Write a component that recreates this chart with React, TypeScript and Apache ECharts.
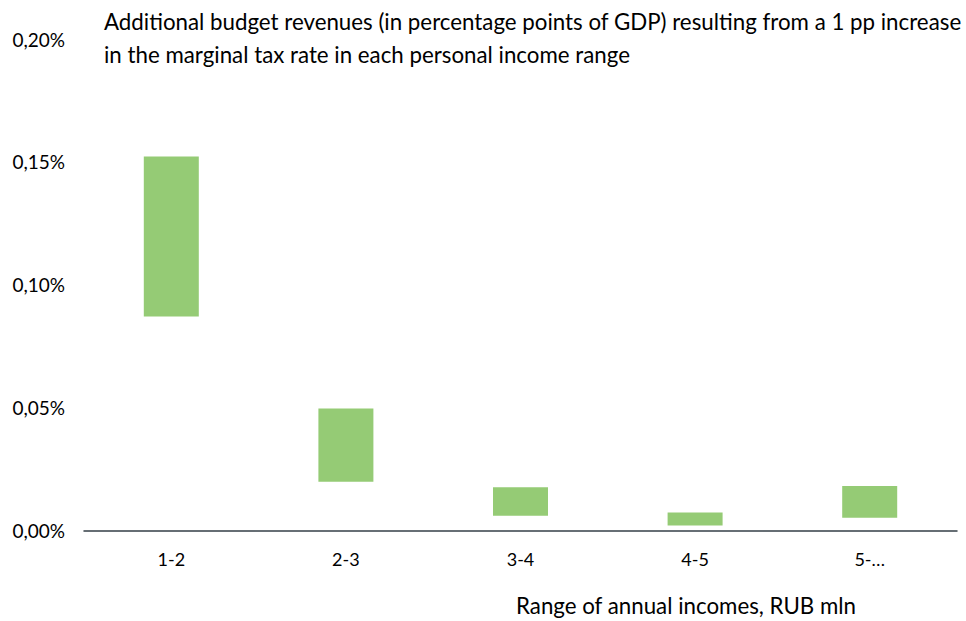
import React, { useEffect, useRef } from "react";
import * as echarts from "echarts";

const categories = ["1-2", "2-3", "3-4", "4-5", "5-…"];
const lowValues = [0.0871, 0.0198, 0.006, 0.002, 0.0052];
const highValues = [0.1522, 0.0496, 0.0176, 0.0073, 0.0181];
const titleLines = [
  "Additional budget revenues (in percentage points of GDP) resulting from a 1 pp increase",
  "in the marginal tax rate in each personal income range",
];
const xAxisTitle = "Range of annual incomes, RUB mln";

const FONT = "Lato, 'Open Sans', sans-serif";

export default function App() {
  const ref = useRef<HTMLDivElement>(null);
  useEffect(() => {
    if (!ref.current) return;
    const chart = echarts.init(ref.current, undefined, { renderer: "svg" });
    const spans = highValues.map((h, i) => +(h - lowValues[i]).toFixed(5));
    chart.setOption({
      animation: false,
      textStyle: { fontFamily: FONT },
      grid: { left: 84, right: 9, top: 39, bottom: 90.5, containLabel: false },
      xAxis: {
        type: "category",
        data: categories,
        axisLine: { show: true, lineStyle: { color: "#353F47", width: 1.5 } },
        axisTick: { show: false },
        axisLabel: { color: "#000", fontSize: 18, margin: 19, fontFamily: FONT },
      },
      yAxis: {
        type: "value",
        min: 0,
        max: 0.2,
        interval: 0.05,
        splitLine: { show: false },
        axisLine: { show: false },
        axisTick: { show: false },
        axisLabel: {
          color: "#000",
          fontSize: 19,
          margin: 19,
          fontFamily: FONT,
          formatter: (v: number) => v.toFixed(2).replace(".", ",") + "%",
        },
      },
      series: [
        {
          type: "bar",
          stack: "r",
          data: lowValues,
          barWidth: 55,
          itemStyle: { color: "transparent" },
          silent: true,
        },
        {
          type: "bar",
          stack: "r",
          data: spans,
          barWidth: 55,
          itemStyle: { color: "#95CB75" },
        },
      ],
      graphic: [
        {
          type: "text",
          left: 104,
          top: 5,
          style: {
            text: titleLines.join("\n"),
            fontSize: 22.3,
            lineHeight: 33,
            fill: "#000",
            fontFamily: FONT,
          },
        },
        {
          type: "text",
          left: 516,
          top: 594,
          style: { text: xAxisTitle, fontSize: 22.3, fill: "#000", fontFamily: FONT },
        },
      ],
    });
    return () => chart.dispose();
  }, []);
  return <div ref={ref} style={{ width: 966, height: 621, position: "absolute", left: 0, top: 0 }} />;
}
